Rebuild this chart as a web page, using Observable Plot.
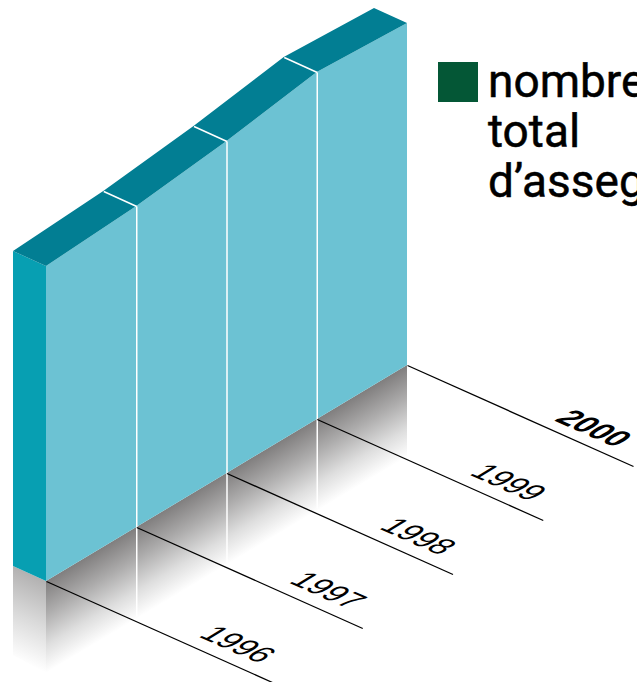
<!DOCTYPE html>
<html>
<head>
<meta charset="utf-8">
<script src="https://cdn.jsdelivr.net/npm/d3@7"></script>
<script src="https://cdn.jsdelivr.net/npm/@observablehq/plot@0.6"></script>
<style>html,body{margin:0;padding:0;background:#fff;overflow:hidden}svg{display:block}</style>
</head>
<body>
<script>
// Data (relative wall height; the chart has no value axis)
const years = [1996, 1997, 1998, 1999, 2000];
const values = [315, 321, 332, 347, 342];
const legendLines = ["nombre", "total", "d’assegurats"];

// Oblique projection of the chart's axes
const origin = [46, 581];
const yearStep = [90.25, -54];
const wallDepth = [-33, -15];
const tickRun = [226, 101];
const labelRun = [190, 63];
const shadowDrop = 92;

const rows = years.map((year, i) => {
  const fx = origin[0] + i * yearStep[0];
  const base = origin[1] + i * yearStep[1];
  const top = base - values[i];
  return {year, fx, base, top, bx: fx + wallDepth[0], btop: top + wallDepth[1], bbase: base + wallDepth[1]};
});
const first = rows[0];
const inner = rows.slice(1, -1);
const leftFace = [
  {x1: first.bx, y1: first.bbase, y2: first.btop},
  {x1: first.fx, y1: first.base, y2: first.top}
];
const leftShadow = [
  {x1: first.bx, y1: first.bbase, y2: first.bbase + shadowDrop - 3},
  {x1: first.fx, y1: first.base, y2: first.base + shadowDrop}
];

function gradients(index, {x, y}) {
  const defs = d3.create("svg:defs");
  const make = (id, from, vec, stops) => {
    const g = defs.append("linearGradient").attr("id", id).attr("gradientUnits", "userSpaceOnUse")
      .attr("x1", x(from[0])).attr("y1", y(from[1]))
      .attr("x2", x(from[0] + vec[0])).attr("y2", y(from[1] + vec[1]));
    stops.forEach(([o, c]) => g.append("stop").attr("offset", o).attr("stop-color", c));
  };
  const n = Math.hypot(...yearStep);
  const cos = Math.abs(yearStep[0]) / n;
  const d = shadowDrop * cos;
  make("frontShade", [first.fx, first.base], [d * -yearStep[1] / n, d * yearStep[0] / n],
    [[0, "#807e7e"], [0.35, "#adacac"], [0.7, "#dedede"], [1, "#ffffff"]]);
  const m = Math.hypot(...wallDepth);
  const cos2 = Math.abs(wallDepth[0]) / m;
  const e = shadowDrop * cos2;
  make("leftShade", [first.fx, first.base], [e * -wallDepth[1] / m * -1, e * -wallDepth[0] / m],
    [[0, "#b2b1b1"], [0.5, "#dadada"], [1, "#ffffff"]]);
  return defs.node();
}

const yearLabel = (subset, weight, dx) => Plot.text(subset, {
  x: d => d.fx + labelRun[0],
  y: d => d.base + labelRun[1],
  text: d => String(d.year),
  fontFamily: "Liberation Sans, sans-serif",
  fontSize: 20,
  fontWeight: weight,
  fill: "#000",
  textAnchor: "middle",
  dx
});

const chart = Plot.plot({
  width: 637,
  height: 682,
  margin: 0,
  x: {domain: [0, 637], range: [0, 637], axis: null},
  y: {domain: [0, 682], range: [0, 682], axis: null},
  marks: [
    gradients,
    // ground shadows
    Plot.area(rows, {x1: "fx", y1: "base", y2: d => d.base + shadowDrop, fill: "url(#frontShade)"}),
    Plot.area(leftShadow, {x1: "x1", y1: "y1", y2: "y2", fill: "url(#leftShade)"}),
    // walls
    Plot.area(leftFace, {x1: "x1", y1: "y1", y2: "y2", fill: "#079fb2"}),
    Plot.area(rows, {x1: "fx", y1: "base", y2: "top", fill: "#6cc2d3"}),
    Plot.area(rows, {x1: "fx", y1: "top", x2: "bx", y2: "btop", fill: "#027e93"}),
    // dividers
    Plot.link(inner, {x1: "fx", x2: "fx", y1: "top", y2: d => d.base + shadowDrop - 3, stroke: "#fff", strokeWidth: 1.5}),
    Plot.link(inner, {x1: "fx", y1: "top", x2: "bx", y2: "btop", stroke: "#fff", strokeWidth: 1.5}),
    // year ticks on the ground
    Plot.link(rows, {x1: "fx", y1: "base", x2: d => d.fx + tickRun[0], y2: d => d.base + tickRun[1], stroke: "#000", strokeWidth: 1.3}),
    yearLabel(rows.filter(d => d.year !== 2000), 400, 1),
    yearLabel(rows.filter(d => d.year === 2000), 700, -4),
    // legend
    Plot.rect([0], {x1: () => 438, x2: () => 478, y1: () => 62, y2: () => 102, fill: "#045736"}),
    Plot.text([legendLines.join("\n")], {
      x: () => 487.5,
      y: () => 61,
      text: d => d,
      textAnchor: "start",
      lineAnchor: "top",
      lineHeight: 1.087,
      fontFamily: "Roboto, sans-serif",
      fontSize: 46,
      fontWeight: 400,
      stroke: "#000",
      strokeWidth: 0.5,
      fill: "#000"
    })
  ]
});

// Lay the year labels on the ground plane: baseline along the ticks, stems along the wall
d3.select(chart).selectAll("text").filter(function () {
  return /^\d{4}$/.test(this.textContent);
}).each(function () {
  const t = this.getAttribute("transform") || "";
  this.setAttribute("transform", `${t} matrix(1.4,0.62,-1.4,0.85,0,0)`);
});
document.body.appendChild(chart);
</script>
</body>
</html>
